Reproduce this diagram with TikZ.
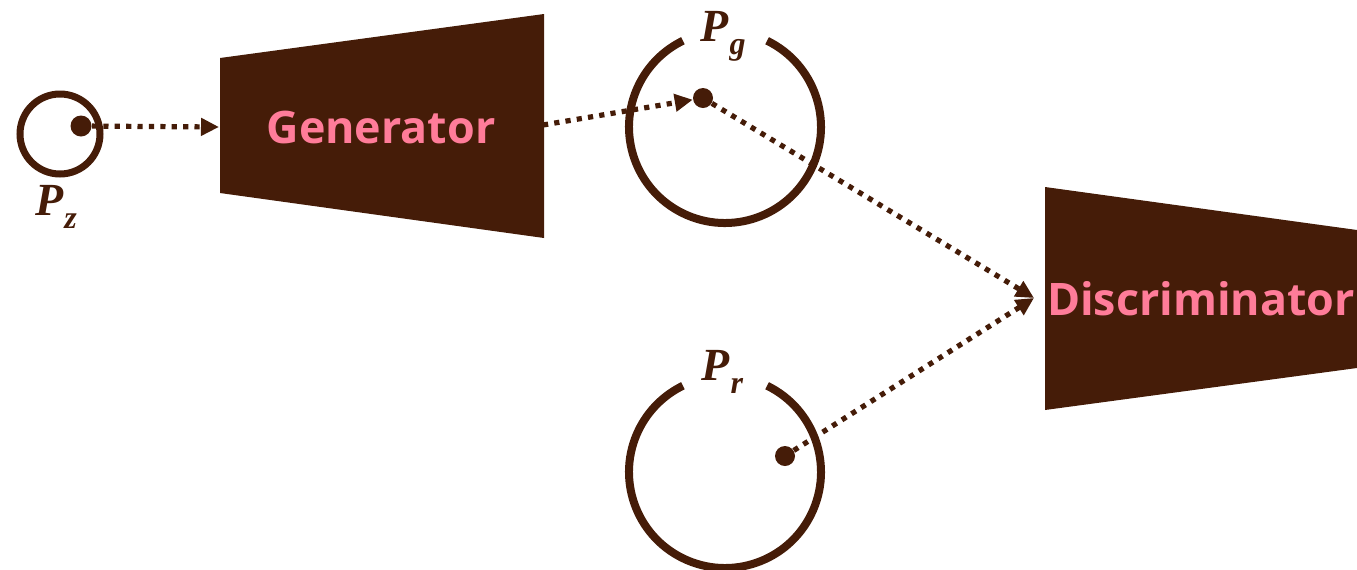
\documentclass[tikz,border=0pt]{standalone}
\usepackage{fontspec}
\setmainfont{Liberation Serif}
\newfontfamily\blocksans{Open Sans}
\usetikzlibrary{arrows.meta}
\definecolor{brn}{RGB}{69,28,8}
\definecolor{pnk}{RGB}{255,124,153}
\newcommand\plabel[1]{P\kern0.5pt\raisebox{-6.5pt}{\fontsize{16}{16}\selectfont #1}}
\begin{document}
\begin{tikzpicture}[x=0.5pt,y=-0.5pt,
  ring/.style={draw=brn, line width=4pt},
  flow/.style={draw=brn, line width=2.6pt, dash pattern=on 2.6pt off 3.1pt,
    -{Triangle[length=9pt,width=8.5pt]}},
  blob/.style={circle, fill=brn, inner sep=0pt, minimum size=10.5pt},
  blocktext/.style={text=pnk, font=\blocksans\bfseries\fontsize{22.4}{26}\selectfont},
  dist/.style={text=brn, inner sep=0pt, anchor=base west,
    font=\bfseries\itshape\fontsize{23}{26}\selectfont}]
\useasboundingbox (0,0) rectangle (1357,569);

% P_z
\node[circle, draw=brn, line width=3.5pt, minimum size=40pt, inner sep=0pt] (pz) at (60,134) {};
\node[blob] (zdot) at (81,126) {};
\node[dist] (pzl) at (35,215) {\plabel{z}};

% Generator
\fill[brn] (220,58) -- (544,14) -- (544,238) -- (220,193) -- cycle;
\node[blocktext] (gen) at (381,127) {Generator};
\coordinate (genin) at (219,127);
\coordinate (genout) at (543,125);

% P_g
\coordinate (gc) at (725,127);
\draw[ring] (gc) ++(-64:96) arc[start angle=-64, end angle=244, radius=96];
\node[dist] (pgl) at (700,41) {\plabel{g}};
\node[blob, minimum size=10pt] (gdot) at (703,98) {};

% P_r
\coordinate (rc) at (725,472);
\draw[ring] (rc) ++(-64:96) arc[start angle=-64, end angle=244, radius=96];
\node[dist] (prl) at (701,380) {\plabel{r}};
\node[blob, minimum size=10pt] (rdot) at (785,456) {};

% Discriminator
\fill[brn] (1045,187) -- (1357,230) -- (1357,368) -- (1045,410) -- cycle;
\node[blocktext] (disc) at (1201,299) {Discriminator};
\coordinate (din) at (1034,298);

% connectors
\draw[flow] (zdot) -- (genin);
\draw[flow] (genout) -- (gdot);
\draw[flow] (gdot) -- (din);
\draw[flow] (rdot) -- (din);
\end{tikzpicture}
\end{document}
